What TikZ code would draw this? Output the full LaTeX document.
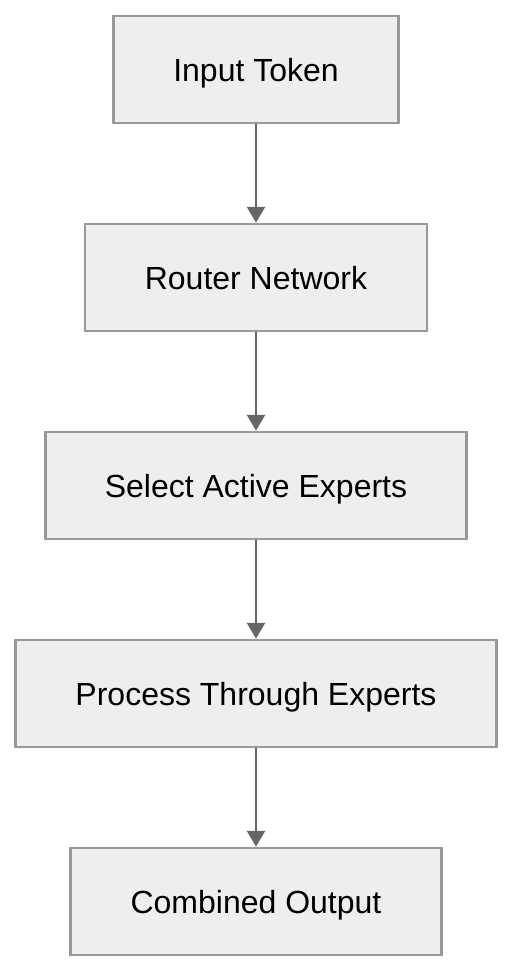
\documentclass[tikz,border=0pt]{standalone}
\usepackage{fontspec}
\setmainfont{Liberation Sans}
\usetikzlibrary{positioning,arrows.meta}
\definecolor{boxfill}{HTML}{EEEEEE}
\definecolor{boxline}{HTML}{999999}
\definecolor{arrowgray}{HTML}{666666}

\begin{document}
\begin{tikzpicture}[node distance=208pt,on grid,
  stage/.style={draw=boxline,fill=boxfill,line width=2.5pt,minimum height=107pt,inner sep=0pt,text height=23pt,text depth=0pt,font=\fontsize{32}{38}\selectfont},
  flow/.style={-{Triangle[length=16pt,width=18pt]},draw=arrowgray,fill=arrowgray,line width=2.5pt}]
\useasboundingbox (0,0) rectangle (512pt,-972pt);
\node[stage,minimum width=285pt] (input) at (256pt,-69.5pt) {Input Token};
\node[stage,minimum width=342pt] (router) [below=of input] {Router Network};
\node[stage,minimum width=421pt] (select) [below=of router] {Select Active Experts};
\node[stage,minimum width=481pt] (process) [below=of select] {Process Through Experts};
\node[stage,minimum width=371pt] (output) [below=of process] {Combined Output};

\path[flow]
(input) edge (router)
(router) edge (select)
(select) edge (process)
(process) edge (output)
; %end path
\end{tikzpicture}
\end{document}
